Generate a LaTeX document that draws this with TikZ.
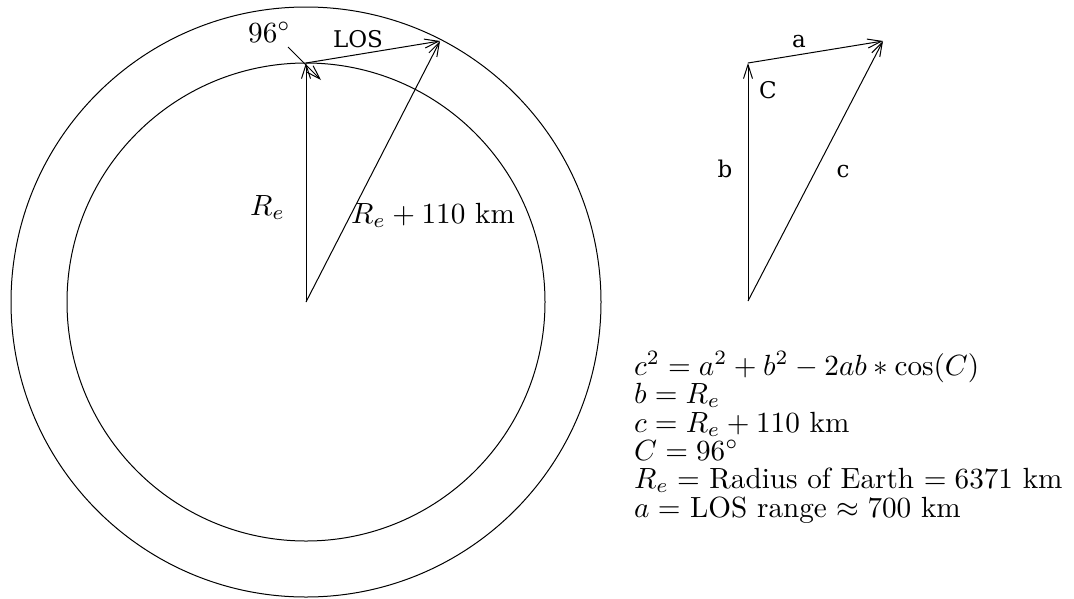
\documentclass[tikz,border=0pt]{standalone}
\usepackage{fontspec}
\usepackage{graphicx}
\usetikzlibrary{arrows.meta}
\newfontfamily\timesfam{DejaVu Serif}
\newcommand{\mz}[1]{\scalebox{2.92}{#1}}
\tikzset{
  ln/.style={line width=1pt, black},
  vec/.style={ln, -{Straight Barb[length=14pt,width=9pt,line width=1pt]}},
  tlab/.style={inner sep=0pt, anchor=base},
  mlab/.style={inner sep=0pt, anchor=base west},
}
\newcommand{\tl}[1]{{\timesfam\fontsize{23}{27}\selectfont #1}}
\begin{document}
\begin{tikzpicture}[x=1pt,y=-1pt]
\useasboundingbox (0,0) rectangle (1074,598);
% left figure
\coordinate (O) at (306,302);
\coordinate (V) at (306,63);
\coordinate (P) at (440,41);
\coordinate (As) at (288,47);
\coordinate (Ae) at (321,80);
\draw[ln] (O) circle[radius=295];
\draw[ln] (O) circle[radius=239];
\draw[vec] (O) -- (V);
\draw[vec] (O) -- (P);
\draw[vec] (V) -- (P);
\draw[vec] (As) -- (Ae);
\node[mlab] (ang) at (248,42) {\mz{$96^\circ$}};
\node[tlab] (los) at (358,47) {\tl{LOS}};
\node[mlab] (re) at (250,215) {\mz{$R_e$}};
\node[mlab] (rekm) at (351,223) {\mz{$R_e + 110$ km}};
% right triangle
\coordinate (B0) at (748,301);
\coordinate (V2) at (748,63);
\coordinate (P2) at (883,41);
\draw[vec] (B0) -- (V2);
\draw[vec] (B0) -- (P2);
\draw[vec] (V2) -- (P2);
\node[tlab] (la) at (799,47) {\tl{a}};
\node[tlab] (lC) at (768,98) {\tl{C}};
\node[tlab] (lb) at (725,177) {\tl{b}};
\node[tlab] (lc) at (843,177) {\tl{c}};
% formulas
\node[mlab] (f1) at (634,375) {\mz{$c^2 = a^2 + b^2 - 2ab * \cos(C)$}};
\node[mlab] (f2) at (634,403) {\mz{$b = R_e$}};
\node[mlab] (f3) at (634,432) {\mz{$c = R_e + 110$ km}};
\node[mlab] (f4) at (634,460) {\mz{$C = 96^\circ$}};
\node[mlab] (f5) at (634,488) {\mz{$R_e =$ Radius of Earth $= 6371$ km}};
\node[mlab] (f6) at (634,517) {\mz{$a =$ LOS range $\approx 700$ km}};
\end{tikzpicture}
\end{document}
